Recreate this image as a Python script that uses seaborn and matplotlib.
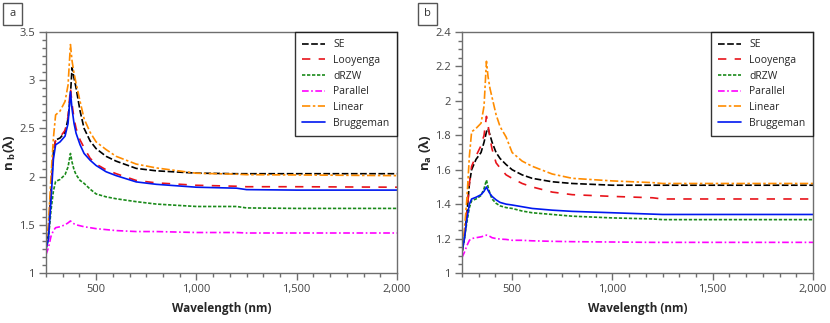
import numpy as np
import pandas as pd
import matplotlib
matplotlib.use("Agg")
import matplotlib.pyplot as plt
import seaborn as sns
from matplotlib.ticker import MultipleLocator, AutoMinorLocator, FuncFormatter
from matplotlib.patches import Rectangle

# wavelength grid (nm), shared by both panels
wl = [250, 262, 275, 287, 298, 320, 345, 360, 372, 380, 390, 400, 420, 440,
      470, 500, 550, 600, 700, 800, 1000, 1200, 1250, 1500, 2000]

# panel a : n_b(lambda)
se_a = [1.26, 1.40, 1.85, 2.25, 2.38, 2.40, 2.46, 2.60, 2.85, 3.13, 3.02, 2.92, 2.68, 2.50,
        2.37, 2.29, 2.21, 2.16, 2.085, 2.06, 2.036, 2.03, 2.03, 2.03, 2.03]
looyenga_a = [1.26, 1.40, 1.85, 2.25, 2.38, 2.41, 2.48, 2.62, 2.92, 2.75, 2.60, 2.50, 2.38, 2.30,
              2.19, 2.13, 2.07, 2.03, 1.96, 1.935, 1.91, 1.90, 1.895, 1.895, 1.89]
drzw_a = [1.25, 1.35, 1.65, 1.85, 1.95, 1.97, 2.02, 2.10, 2.24, 2.15, 2.07, 2.02, 1.96, 1.93,
          1.87, 1.82, 1.79, 1.77, 1.74, 1.715, 1.69, 1.69, 1.675, 1.67, 1.67]
parallel_a = [1.19, 1.26, 1.38, 1.44, 1.47, 1.48, 1.50, 1.52, 1.54, 1.525, 1.51, 1.50, 1.49, 1.48,
              1.47, 1.46, 1.45, 1.44, 1.43, 1.43, 1.42, 1.42, 1.415, 1.415, 1.415]
linear_a = [1.27, 1.50, 2.00, 2.40, 2.64, 2.68, 2.78, 2.95, 3.37, 3.20, 3.07, 2.97, 2.78, 2.60,
            2.46, 2.36, 2.28, 2.21, 2.13, 2.09, 2.035, 2.025, 2.02, 2.017, 2.01]
brugg_a = [1.25, 1.35, 1.75, 2.18, 2.33, 2.36, 2.42, 2.55, 2.88, 2.70, 2.55, 2.45, 2.33, 2.24,
           2.17, 2.115, 2.05, 2.01, 1.945, 1.92, 1.89, 1.88, 1.865, 1.86, 1.86]

# panel b : n_a(lambda)
se_b = [1.12, 1.20, 1.35, 1.52, 1.60, 1.66, 1.70, 1.76, 1.82, 1.84, 1.80, 1.76, 1.70, 1.665,
        1.63, 1.60, 1.57, 1.55, 1.53, 1.52, 1.51, 1.51, 1.51, 1.51, 1.51]
looyenga_b = [1.12, 1.20, 1.35, 1.52, 1.62, 1.68, 1.74, 1.80, 1.91, 1.86, 1.78, 1.72, 1.64, 1.61,
              1.57, 1.55, 1.52, 1.50, 1.47, 1.455, 1.445, 1.437, 1.43, 1.43, 1.43]
drzw_b = [1.12, 1.20, 1.30, 1.38, 1.42, 1.43, 1.45, 1.49, 1.54, 1.50, 1.46, 1.43, 1.405, 1.39,
          1.38, 1.375, 1.36, 1.35, 1.34, 1.33, 1.32, 1.314, 1.31, 1.31, 1.31]
parallel_b = [1.09, 1.12, 1.16, 1.19, 1.20, 1.205, 1.21, 1.215, 1.22, 1.218, 1.212, 1.205, 1.20, 1.197,
              1.195, 1.19, 1.19, 1.187, 1.184, 1.182, 1.18, 1.178, 1.178, 1.178, 1.178]
linear_b = [1.12, 1.25, 1.44, 1.68, 1.82, 1.84, 1.87, 1.97, 2.23, 2.14, 2.07, 2.02, 1.92, 1.85,
            1.79, 1.70, 1.65, 1.62, 1.575, 1.55, 1.535, 1.525, 1.52, 1.52, 1.52]
brugg_b = [1.12, 1.20, 1.32, 1.40, 1.43, 1.44, 1.455, 1.475, 1.50, 1.48, 1.46, 1.445, 1.425, 1.41,
           1.40, 1.395, 1.385, 1.375, 1.365, 1.358, 1.35, 1.342, 1.34, 1.34, 1.34]

names = ["SE", "Looyenga", "dRZW", "Parallel", "Linear", "Bruggeman"]
colors = ["black", "#e8141b", "#1a8a1a", "#ff00ff", "#ff8c00", "#0018f0"]
styles = [(0, (4, 1.5)), (0, (5, 5)), (0, (2, 1)), (0, (4, 1.5, 1, 1.5)),
          (0, (5, 1.5, 1.5, 1.5)), "-"]

sns.set_style("ticks")
plt.rcParams["font.family"] = ["Open Sans", "DejaVu Sans"]
plt.rcParams["mathtext.fontset"] = "custom"
plt.rcParams["mathtext.rm"] = "Open Sans"
plt.rcParams["mathtext.bf"] = "Open Sans:bold"

fig = plt.figure(figsize=(8.3, 3.23), dpi=100)
ax_a = fig.add_axes([0.0554, 0.1548, 0.4229, 0.7461])
ax_b = fig.add_axes([0.5566, 0.1548, 0.4229, 0.7461])

panels = [
    (ax_a, [se_a, looyenga_a, drzw_a, parallel_a, linear_a, brugg_a], (1, 3.5), 0.5, 6,
     "n$_{\\mathbf{\\ b}}$(λ)", "a"),
    (ax_b, [se_b, looyenga_b, drzw_b, parallel_b, linear_b, brugg_b], (1, 2.4), 0.2, 4,
     "n$_{\\mathbf{a}}$ (λ)", "b"),
]

gray = "#6e6e6e"
for ax, series, ylim, ystep, yminor, ylab, tag in panels:
    for name, vals, c, ls in zip(names, series, colors, styles):
        df = pd.DataFrame({"wl": wl, "n": vals})
        sns.lineplot(data=df, x="wl", y="n", ax=ax, color=c, linestyle=ls,
                     linewidth=1.2, label=name)
    ax.set_xlim(250, 2000)
    ax.set_ylim(*ylim)
    ax.xaxis.set_major_locator(MultipleLocator(500))
    ax.xaxis.set_minor_locator(AutoMinorLocator(6))
    ax.yaxis.set_major_locator(MultipleLocator(ystep))
    ax.yaxis.set_minor_locator(AutoMinorLocator(yminor))
    ax.xaxis.set_major_formatter(FuncFormatter(lambda v, p: f"{v:,.0f}"))
    ax.yaxis.set_major_formatter(FuncFormatter(lambda v, p: f"{v:g}"))
    ax.tick_params(which="major", length=5, width=1, color=gray, labelsize=8,
                   labelcolor="#444444", pad=3)
    ax.tick_params(which="minor", length=3, width=1, color=gray)
    for s in ax.spines.values():
        s.set_color(gray)
        s.set_linewidth(1)
    ax.set_xlabel("Wavelength (nm)", fontsize=8.5, fontweight="bold", labelpad=5)
    ax.set_ylabel(ylab, fontsize=9.5, fontweight="bold")
    ax.yaxis.set_label_coords(-0.08, 0.5)
    leg = ax.legend(loc="upper right", borderaxespad=0, fontsize=7.5, frameon=True,
                    fancybox=False, handlelength=2.2, labelspacing=0.45,
                    borderpad=0.7, handletextpad=0.8)
    leg.get_frame().set_edgecolor("black")
    leg.get_frame().set_linewidth(1)

# panel tags in boxes
for x0, tag in [(3, "a"), (418, "b")]:
    fig.add_artist(Rectangle((x0 / 830, 1 - 25 / 323), 19 / 830, 22 / 323,
                             transform=fig.transFigure, fill=False,
                             edgecolor="#555555", linewidth=1))
    fig.text((x0 + 9.5) / 830, 1 - 14 / 323, tag, ha="center", va="center",
             fontsize=8, color="#333333")

fig.savefig("out.png", dpi=100)
